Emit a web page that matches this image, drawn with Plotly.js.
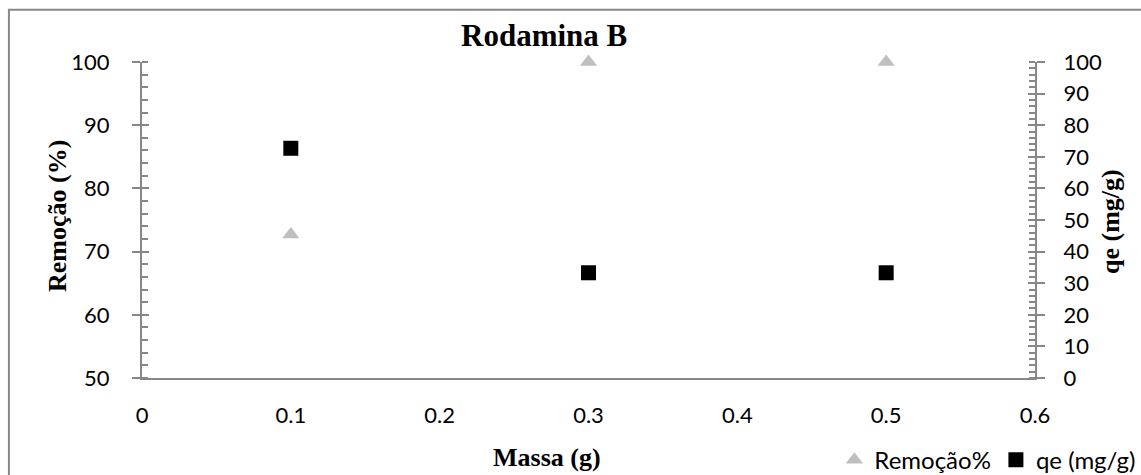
<!DOCTYPE html>
<html>
<head>
<meta charset="utf-8">
<script src="https://cdn.plot.ly/plotly-3.0.1.min.js"></script>
<style>html,body{margin:0;padding:0;background:#fff;}#chart{width:1141px;height:475px;}</style>
</head>
<body>
<div id="chart"></div>
<script>
const massa = [0.1, 0.3, 0.5];
const remocao = [72.7, 100, 100];
const qe = [72.7, 33.3, 33.3];
const xTicks = [0, 0.1, 0.2, 0.3, 0.4, 0.5, 0.6];
const leftTicks = [50, 60, 70, 80, 90, 100];
const rightTicks = [0, 10, 20, 30, 40, 50, 60, 70, 80, 90, 100];

const axisColor = '#878787';
const tickFont = {family: 'Lato, "Liberation Sans", sans-serif', size: 22, color: '#000'};
const legendFont = {family: 'Lato, "Liberation Sans", sans-serif', size: 24, color: '#000'};
const titleFont = {family: '"Liberation Serif", "Times New Roman", serif', size: 26, color: '#000'};

const traces = [
  {x: massa, y: remocao, name: 'Remoção%', type: 'scatter', mode: 'markers', yaxis: 'y', cliponaxis: false,
   marker: {symbol: 'triangle-up', size: 15, color: '#bfbfbf'}},
  {x: massa, y: qe, name: 'qe (mg/g)', type: 'scatter', mode: 'markers', yaxis: 'y2', cliponaxis: false,
   marker: {symbol: 'square', size: 15, color: '#000000'}}
];

const layout = {
  width: 1141, height: 475,
  margin: {l: 142, r: 106, t: 62, b: 97, autoexpand: false},
  paper_bgcolor: '#fff', plot_bgcolor: '#fff',
  showlegend: true,
  legend: {orientation: 'h', x: 1.118, xanchor: 'right', y: -0.26, yanchor: 'middle',
           font: legendFont, itemwidth: 30, tracegroupgap: 0},
  xaxis: {range: [0, 0.6], tickvals: xTicks, ticktext: xTicks.map(String), ticks: '',
          showgrid: false, zeroline: false, showline: true, linecolor: axisColor, linewidth: 2,
          tickfont: tickFont, ticklabelstandoff: 17},
  yaxis: {range: [50, 100], tickvals: leftTicks, ticks: 'outside', ticklen: 8, tickwidth: 2,
          tickcolor: axisColor, showgrid: false, zeroline: false, showline: true,
          linecolor: axisColor, linewidth: 2, tickfont: tickFont, ticklabelstandoff: 18,
          minor: {dtick: 2, ticks: 'inside', ticklen: 6, tickwidth: 2, tickcolor: axisColor, showgrid: false}},
  yaxis3: {range: [50, 100], overlaying: 'y', side: 'left', tickvals: leftTicks, ticks: 'inside', ticklen: 7,
           tickwidth: 2, tickcolor: axisColor, showticklabels: false, showgrid: false, zeroline: false, showline: false},
  yaxis2: {range: [0, 100], overlaying: 'y', side: 'right', tickvals: rightTicks, ticks: 'outside', ticklen: 8,
           tickwidth: 2, tickcolor: axisColor, showgrid: false, zeroline: false, showline: true,
           linecolor: axisColor, linewidth: 2, tickfont: tickFont, ticklabelstandoff: 14,
           minor: {dtick: 2, ticks: 'inside', ticklen: 6, tickwidth: 2, tickcolor: axisColor, showgrid: false}},
  yaxis4: {range: [0, 100], overlaying: 'y', side: 'right', tickvals: rightTicks, ticks: 'inside', ticklen: 7,
           tickwidth: 2, tickcolor: axisColor, showticklabels: false, showgrid: false, zeroline: false, showline: false},
  shapes: [
    {type: 'rect', xref: 'paper', yref: 'paper', x0: -0.149, x1: 1.3, y0: -0.5, y1: 1.165,
     line: {color: '#898989', width: 2}, fillcolor: 'rgba(0,0,0,0)', layer: 'below'}
  ],
  annotations: [
    {text: '<b>Rodamina B</b>', xref: 'paper', yref: 'paper', x: (544 - 142) / 893, y: (378 - 35) / 316,
     xanchor: 'center', yanchor: 'middle', showarrow: false,
     font: {family: titleFont.family, size: 31, color: '#000'}},
    {text: '<b>Massa (g)</b>', xref: 'paper', yref: 'paper', x: (547 - 142) / 893, y: (378 - 457) / 316,
     xanchor: 'center', yanchor: 'middle', showarrow: false, font: titleFont},
    {text: '<b>Remoção (%)</b>', xref: 'paper', yref: 'paper', x: (57 - 142) / 893, y: (378 - 216) / 316,
     xanchor: 'center', yanchor: 'middle', showarrow: false, textangle: -90, font: titleFont},
    {text: '<b>qe (mg/g)</b>', xref: 'paper', yref: 'paper', x: (1110 - 142) / 893, y: (378 - 222) / 316,
     xanchor: 'center', yanchor: 'middle', showarrow: false, textangle: -90, font: titleFont}
  ]
};

traces.push({x: [null], y: [null], yaxis: 'y3', showlegend: false, hoverinfo: 'skip', type: 'scatter', mode: 'markers'});
traces.push({x: [null], y: [null], yaxis: 'y4', showlegend: false, hoverinfo: 'skip', type: 'scatter', mode: 'markers'});

Plotly.newPlot('chart', traces, layout, {displayModeBar: false, staticPlot: true});
</script>
</body>
</html>
